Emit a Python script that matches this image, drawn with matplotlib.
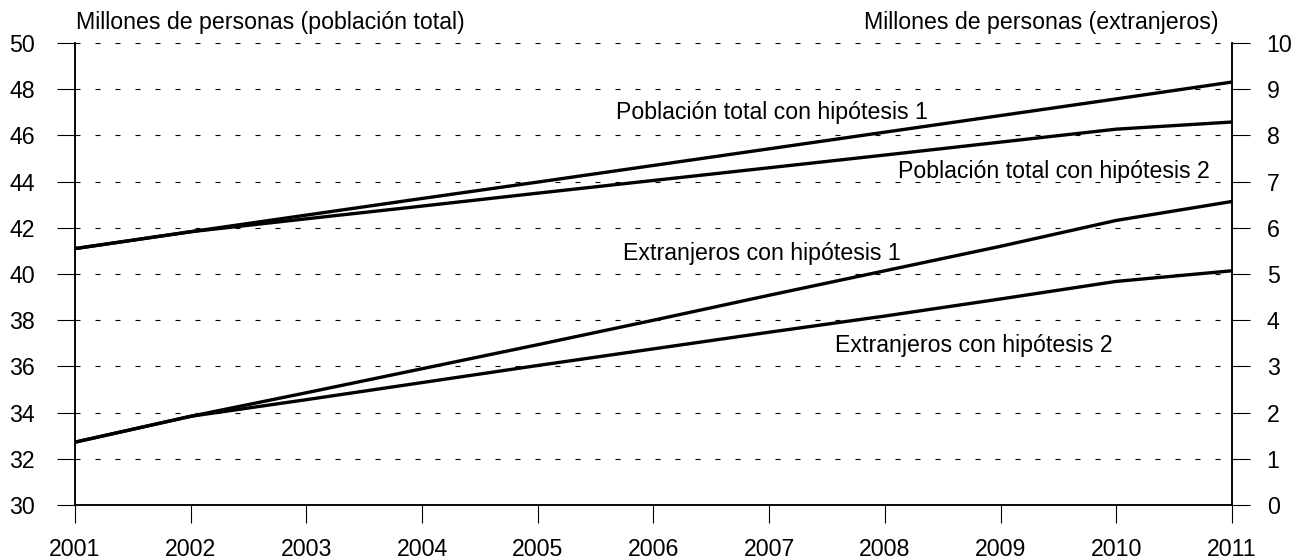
import matplotlib.pyplot as plt

plt.rcParams['font.family'] = ['Liberation Sans', 'DejaVu Sans']

years = list(range(2001, 2012))
# millones de personas, eje izquierdo
total_h1 = [41.10, 41.83, 42.55, 43.27, 43.98, 44.70, 45.42, 46.14, 46.86, 47.58, 48.31]
total_h2 = [41.10, 41.83, 42.39, 42.94, 43.50, 44.05, 44.60, 45.15, 45.71, 46.27, 46.58]
# millones de extranjeros, eje derecho
extr_h1 = [1.36, 1.92, 2.43, 2.95, 3.47, 4.00, 4.54, 5.07, 5.60, 6.16, 6.57]
extr_h2 = [1.36, 1.92, 2.28, 2.65, 3.02, 3.38, 3.74, 4.09, 4.46, 4.84, 5.07]

left_ticks = list(range(30, 51, 2))
right_ticks = list(range(0, 11))

fs = 16.7
fig = plt.figure(figsize=(12.95, 5.6), dpi=100)
ax = fig.add_axes([75 / 1295, 1 - 505 / 560, (1232 - 75) / 1295, (505 - 43) / 560])
ax2 = ax.twinx()

ax.set_xlim(2001, 2011)
ax.set_ylim(30, 50)
ax2.set_ylim(0, 10)

# lineas de referencia punteadas
for v in left_ticks[1:]:
    ax.axhline(v, color='black', lw=0.8, linestyle=(0, (4.5, 13.5)), zorder=1)

ax.plot(years, total_h1, color='black', lw=2.4, zorder=3)
ax.plot(years, total_h2, color='black', lw=2.4, zorder=3)
ax2.plot(years, extr_h1, color='black', lw=2.4, zorder=3)
ax2.plot(years, extr_h2, color='black', lw=2.4, zorder=3)

ax.set_xticks(years)
ax.set_yticks(left_ticks)
ax2.set_yticks(right_ticks)
ax.tick_params(axis='x', direction='out', length=13, width=0.8, pad=11, labelsize=fs)
ax.tick_params(axis='y', direction='out', length=13, width=0.8, pad=16, labelsize=fs)
ax2.tick_params(axis='y', direction='out', length=13, width=0.8, pad=12, labelsize=fs)

for a in (ax, ax2):
    a.spines['top'].set_visible(False)
    for s in ('left', 'right', 'bottom'):
        a.spines[s].set_linewidth(1.1)

ax.text(2007.02, 47.0, 'Población total con hipótesis 1', fontsize=fs, ha='center', va='center')
ax.text(2009.46, 44.42, 'Población total con hipótesis 2', fontsize=fs, ha='center', va='center')
ax2.text(2006.94, 5.45, 'Extranjeros con hipótesis 1', fontsize=fs, ha='center', va='center')
ax2.text(2008.77, 3.46, 'Extranjeros con hipótesis 2', fontsize=fs, ha='center', va='center')

fig.text(76 / 1295, 1 - 23 / 560, 'Millones de personas (población total)', fontsize=fs, ha='left', va='center')
fig.text(1218 / 1295, 1 - 23 / 560, 'Millones de personas (extranjeros)', fontsize=fs, ha='right', va='center')

fig.savefig('out.png', dpi=100)
